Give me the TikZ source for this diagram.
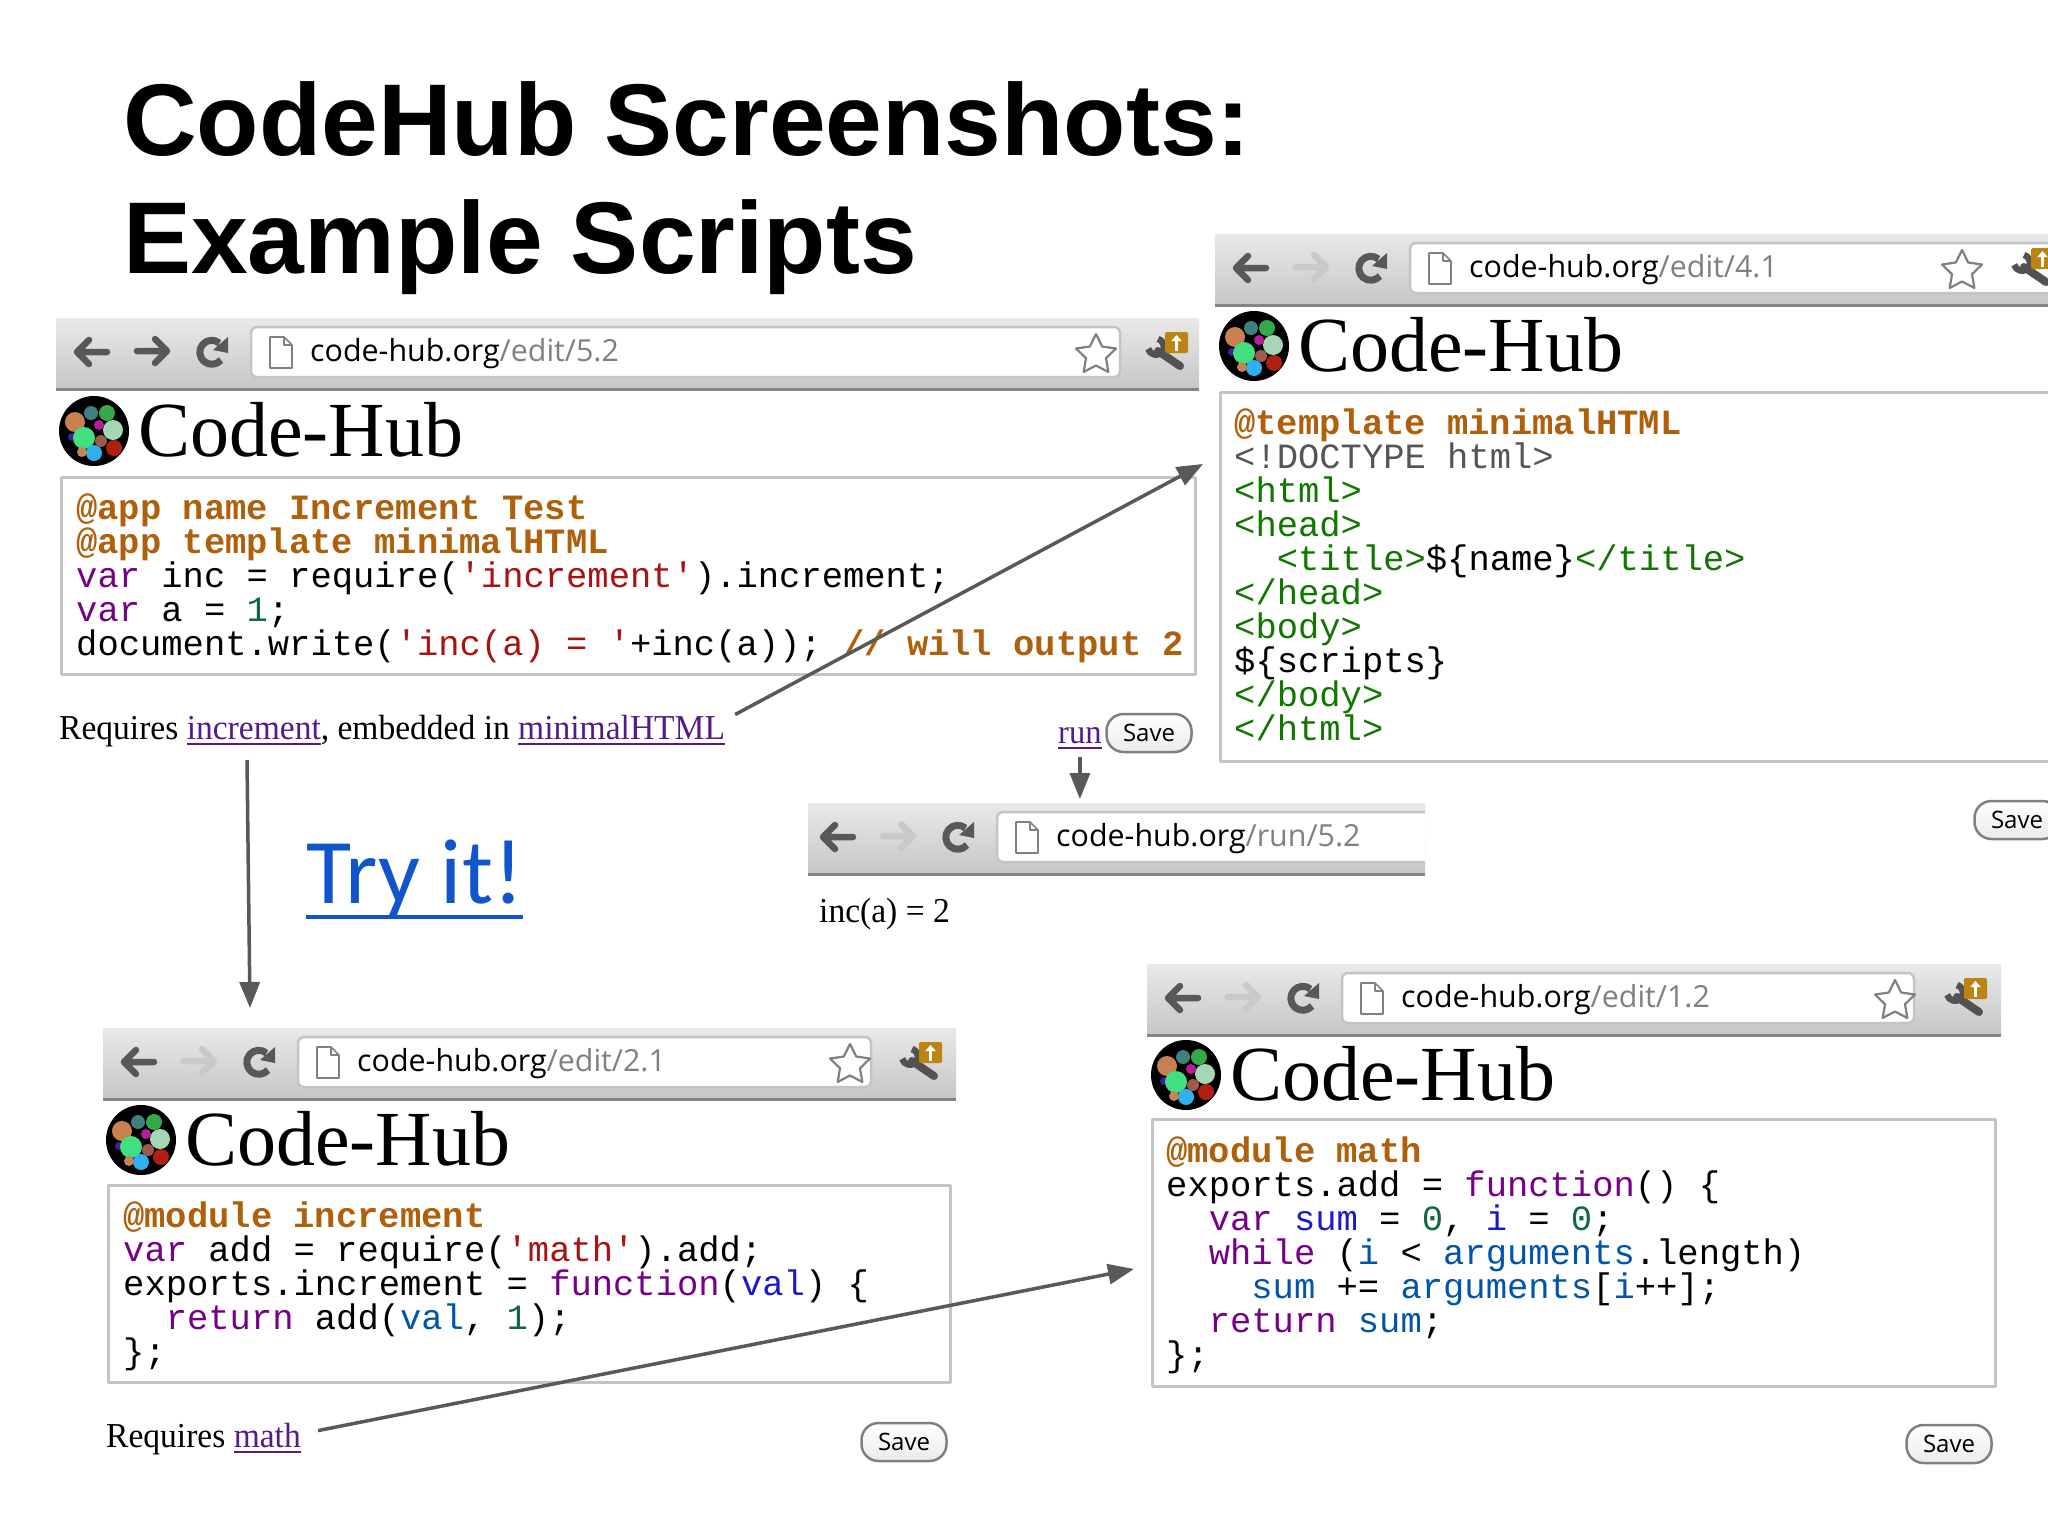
\documentclass[tikz,border=0pt]{standalone}
\usepackage{fontspec}
\usetikzlibrary{arrows.meta,shapes.geometric}
\setmainfont{Liberation Serif}
\setmonofont{Liberation Mono}
\newfontfamily\titlefont{Liberation Sans}
\newfontfamily\urlfont{Open Sans}
\newfontfamily\tryfont{Carlito}
\newfontfamily\bodyfont[FakeStretch=0.958]{Liberation Serif}

\definecolor{barhi}{HTML}{E9E9E9}
\definecolor{barlo}{HTML}{C6C6C6}
\definecolor{barline}{HTML}{858585}
\definecolor{boxline}{HTML}{C4C4C4}
\definecolor{iconon}{HTML}{585858}
\definecolor{iconoff}{HTML}{C9C9C9}
\definecolor{arrowgray}{HTML}{595959}
\definecolor{badgegold}{HTML}{BC8410}
\definecolor{linkpurple}{HTML}{551A8B}
\definecolor{tryblue}{HTML}{1155CC}
\definecolor{cmeta}{HTML}{AF600C}
\definecolor{ckey}{HTML}{770088}
\definecolor{cstring}{HTML}{AA1111}
\definecolor{cnumber}{HTML}{116644}
\definecolor{cdefin}{HTML}{1A1ACC}
\definecolor{cargs}{HTML}{0055AA}
\definecolor{cdoc}{HTML}{555555}
\definecolor{ctag}{HTML}{117700}
\definecolor{logoa}{HTML}{C98050}
\definecolor{logob}{HTML}{3E7F7F}
\definecolor{logoc}{HTML}{35A84A}
\definecolor{logod}{HTML}{A5D6B5}
\definecolor{logoe}{HTML}{B71CA0}
\definecolor{logof}{HTML}{40E080}
\definecolor{logog}{HTML}{A05A4A}
\definecolor{logoh}{HTML}{B02010}
\definecolor{logoi}{HTML}{30B0F0}
\definecolor{logoj}{HTML}{C08850}
\definecolor{logok}{HTML}{4020A0}

\newsavebox{\linkbox}
\newcommand{\underlined}[3]{\sbox{\linkbox}{#1}\leavevmode\rlap{\usebox{\linkbox}}\rule[#2]{\wd\linkbox}{#3}}
\newcommand{\linktext}[1]{{\color{linkpurple}\underlined{#1}{-6pt}{2pt}}}
\newcommand{\cm}[1]{\textcolor{cmeta}{\textbf{#1}}}
\newcommand{\ck}[1]{\textcolor{ckey}{#1}}
\newcommand{\cs}[1]{\textcolor{cstring}{#1}}
\newcommand{\cn}[1]{\textcolor{cnumber}{#1}}
\newcommand{\cd}[1]{\textcolor{cdefin}{#1}}
\newcommand{\ca}[1]{\textcolor{cargs}{#1}}
\newcommand{\ct}[1]{\textcolor{ctag}{#1}}
\newcommand{\firstline}{\rule{0pt}{30pt}}

\tikzset{
  titletext/.style={anchor=base west,inner sep=0pt,font=\fontsize{102}{102}\selectfont\titlefont\bfseries},
  hubtext/.style={anchor=base west,inner sep=0pt,font=\fontsize{78}{78}\selectfont},
  urltext/.style={anchor=base west,inner sep=0pt,font=\fontsize{30.4}{30}\selectfont\urlfont},
  bodytext/.style={anchor=base west,inner sep=0pt,font=\fontsize{35}{35}\selectfont\bodyfont},
  codebox/.style={anchor=north west,draw=boxline,line width=2.5pt,inner sep=0pt},
  codetext/.style={anchor=north west,inner sep=0pt,align=left,font=\fontsize{35.5}{34}\selectfont\ttfamily},
  savebtn/.style={draw=gray,line width=2.5pt,rounded corners=17pt,top color=white,bottom color=black!8,
    minimum width=85pt,minimum height=38pt,inner sep=0pt,font=\fontsize{24}{24}\selectfont\urlfont},
  linkarrow/.style={draw=arrowgray,line width=3.5pt,-{Triangle[length=26pt,width=20pt]}},
  navicon/.style={line width=6.5pt,line cap=round},
}

% name, left, top, bar width, url box width, forward colour, url tail, shift of the contents
\newcommand{\browserbar}[8]{
  \begin{scope}[shift={(#2,#3)}]
    \clip (0,0) rectangle (#4,74);
    \node (#1) [anchor=north west,top color=barhi,bottom color=barlo,inner sep=0pt,
      minimum width=#4 pt,minimum height=71pt] at (0,0) {};
    \fill[barline] (0,70) rectangle (#4,73);
    \begin{scope}[xshift=#8 pt]
      \draw[navicon,iconon] (51,34) -- (21,34) (33,22) -- (21,34) -- (33,46);
      \draw[navicon,#6] (81,33) -- (111,33) (99,21) -- (111,33) -- (99,45);
      \draw[line width=7pt,iconon] (165,42) arc (-40:-310:12pt);
      \fill[iconon] (172,19) -- (172,35) -- (157,32) -- cycle;
      \draw[draw=boxline,fill=white,line width=2.5pt,rounded corners=6pt] (195,9) rectangle ++(#5,50);
      \draw[draw=gray,fill=white,line width=1.6pt] (214,19) -- (228,19) -- (236,27) -- (236,50) -- (214,50) -- cycle;
      \draw[draw=gray,line width=1.2pt] (228,19) -- (228,27) -- (236,27);
      \node (#1url) [urltext] at (254,43) {code-hub.org\textcolor{gray}{#7}};
    \end{scope}
  \end{scope}
}
% name, left, top, offset of the star from the bar's left
\newcommand{\browsertools}[4]{
  \begin{scope}[shift={(#2,#3)}]
    \node (#1star) [star,star points=5,star point ratio=2.0,draw=gray,fill=white,line width=2.2pt,
      inner sep=0pt,minimum size=42pt] at (#4,37) {};
    \draw[line width=8pt,black!68,line cap=round] (#4+62,33) -- (#4+84,48);
    \draw[line width=6.5pt,black!68] (#4+62,21) arc (75:-165:8pt);
    \fill[badgegold,rounded corners=2pt] (#4+69,14) rectangle ++(23,21);
    \draw[white,line width=3pt,-{Triangle[length=6pt,width=10pt]}] (#4+80.5,33) -- (#4+80.5,17);
  \end{scope}
}
% name, centre of the logo
\newcommand{\hubhead}[3]{
  \begin{scope}[shift={(#2,#3)}]
    \fill[black] (0,0) circle (35pt);
    \foreach \dx/\dy/\rad/\col in {-19/-9/10/logoa,-3/-18/7/logob,13/-18/8/logoc,19/-1/10/logod,
      5/-6/5/logoe,-22/6/4/logok,-10/7/11/logof,7/10/6/logog,20/17/8/logoh,0/22/8/logoi,-12/21/5/logoj}
      \fill[\col] (\dx,\dy) circle (\rad pt);
    \node (#1) [hubtext] at (44,25) {Code-Hub};
  \end{scope}
}

\begin{document}
\begin{tikzpicture}[x=1pt,y=-1pt,line join=round]
  \useasboundingbox (0,0) rectangle (2048,1536);
  \clip (0,0) rectangle (2048,1536);
  \fill[white] (0,0) rectangle (2048,1536);

  \node (title1) [titletext] at (123,156) {CodeHub Screenshots:};
  \node (title2) [titletext] at (123,273) {Example Scripts};

  \browserbar{barA}{56}{318}{1143}{869}{iconon}{/edit/5.2}{0}
  \browsertools{toolA}{56}{318}{1040}
  \hubhead{hubA}{94}{431}
  \node (boxA) [codebox,minimum width=1134pt,minimum height=197pt] at (60,476) {};
  \node (codeA) [codetext] at (76,489) {\firstline\cm{@app name Increment Test}\\
    \cm{@app template minimalHTML}\\
    \ck{var} inc = require(\cs{'increment'}).increment;\\
    \ck{var} a = \cn{1};\\
    document.write(\cs{'inc(a) = '}+inc(a)); \cm{// will output 2}};
  \node (reqA) [bodytext] at (59,739) {Requires \linktext{increment}, embedded in \linktext{minimalHTML}};
  \node (runA) [bodytext,font=\fontsize{34}{34}\selectfont\bodyfont] at (1058,743) {\linktext{run}};
  \node (saveA) [savebtn] at (1149,733) {Save};

  \browserbar{barB}{1215}{234}{900}{777}{iconoff}{/edit/4.1}{0}
  \browsertools{toolB}{1215}{234}{747}
  \hubhead{hubB}{1254}{346}
  \node (boxB) [codebox,minimum width=900pt,minimum height=369pt] at (1219,391) {};
  \node (codeB) [codetext] at (1234,404) {\firstline\cm{@template minimalHTML}\\
    \textcolor{cdoc}{<!DOCTYPE html>}\\
    \ct{<html>}\\
    \ct{<head>}\\
    \ \ \ct{<title>}\$\{name\}\ct{</title>}\\
    \ct{</head>}\\
    \ct{<body>}\\
    \$\{scripts\}\\
    \ct{</body>}\\
    \ct{</html>}};
  \node (saveB) [savebtn] at (2017,820) {Save};

  \browserbar{barR}{808}{803}{617}{800}{iconoff}{/run/5.2}{-6}
  \node (outR) [bodytext] at (819,922) {inc(a) = 2};

  \node (tryit) [anchor=base west,inner sep=0pt,font=\fontsize{92.5}{92}\selectfont\tryfont,text=tryblue]
    at (306,903) {\underlined{Try it!}{-16pt}{4pt}};

  \browserbar{barC}{103}{1028}{853}{573}{iconoff}{/edit/2.1}{0}
  \browsertools{toolC}{103}{1028}{747}
  \hubhead{hubC}{141}{1140}
  \node (boxC) [codebox,minimum width=842pt,minimum height=197pt] at (107,1184) {};
  \node (codeC) [codetext] at (123,1197) {\firstline\cm{@module increment}\\
    \ck{var} add = require(\cs{'math'}).add;\\
    exports.increment = \ck{function}(\cd{val}) \{\\
    \ \ \ck{return} add(\ca{val}, \cn{1});\\
    \};};
  \node (reqC) [bodytext] at (106,1447) {Requires \linktext{math}};
  \node (saveC) [savebtn] at (904,1442) {Save};

  \browserbar{barD}{1147}{964}{854}{572}{iconoff}{/edit/1.2}{0}
  \browsertools{toolD}{1147}{964}{748}
  \hubhead{hubD}{1186}{1075}
  \node (boxD) [codebox,minimum width=843pt,minimum height=267pt] at (1151,1118) {};
  \node (codeD) [codetext] at (1166,1132) {\firstline\cm{@module math}\\
    exports.add = \ck{function}() \{\\
    \ \ \ck{var} \cd{sum} = \cn{0}, \cd{i} = \cn{0};\\
    \ \ \ck{while} (\ca{i} < \ca{arguments}.length)\\
    \ \ \ \ \ca{sum} += \ca{arguments}[\ca{i}++];\\
    \ \ \ck{return} \ca{sum};\\
    \};};
  \node (saveD) [savebtn] at (1949,1444) {Save};

  \coordinate (tmplIn) at (1203,464);
  \coordinate (incOut) at (247,760);
  \coordinate (incIn) at (250,1008);
  \coordinate (mathIn) at (1134,1269);
  \draw[linkarrow] ([xshift=10pt]reqA.north east) -- (tmplIn);
  \draw[linkarrow] (incOut) -- (incIn);
  \draw[linkarrow,shorten <=8pt,shorten >=4pt] (runA.south) -- (runA.south |- barR.north);
  \draw[linkarrow] ([xshift=17pt,yshift=8pt]reqC.east) -- (mathIn);
\end{tikzpicture}
\end{document}
